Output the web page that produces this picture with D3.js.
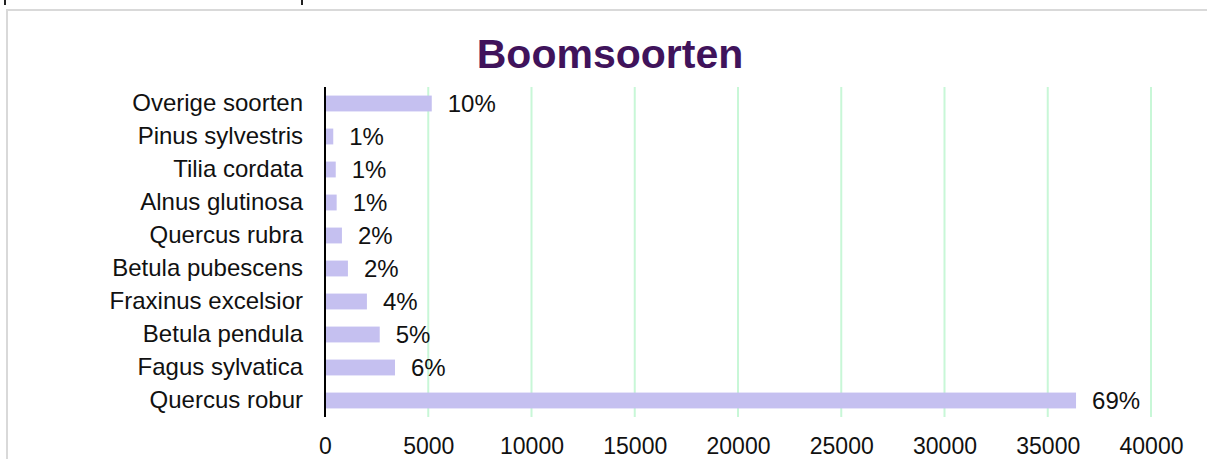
<!DOCTYPE html>
<html>
<head>
<meta charset="utf-8">
<script src="https://cdn.jsdelivr.net/npm/d3@7"></script>
<style>
  body { margin: 0; background: #fff; }
  svg { display: block; font-family: "Liberation Sans", Arial, sans-serif; }
</style>
</head>
<body>
<div id="chart"></div>
<script>
// data, top to bottom as shown
var species = ["Overige soorten", "Pinus sylvestris", "Tilia cordata", "Alnus glutinosa",
    "Quercus rubra", "Betula pubescens", "Fraxinus excelsior", "Betula pendula",
    "Fagus sylvatica", "Quercus robur"];
var counts = [5170, 400, 520, 565, 820, 1110, 2030, 2650, 3390, 36370];
var xTicks = [0, 5000, 10000, 15000, 20000, 25000, 30000, 35000, 40000];

var total = d3.sum(counts);
var data = species.map(function(d, i) { return {name: d, value: counts[i]}; });

var W = 1207, H = 459;
var margin = {top: 87, left: 325, right: 56, bottom: 42};
var width = W - margin.left - margin.right,
    height = H - margin.top - margin.bottom;

var svg = d3.select("#chart").append("svg")
    .attr("width", W)
    .attr("height", H);

// outer frame (only top and left edges are in view)
svg.append("path")
    .attr("d", "M7,459 V10 H1207")
    .attr("fill", "none")
    .attr("stroke", "#d9d9d9")
    .attr("stroke-width", 2);

// bits of something above that got cut off
svg.append("rect").attr("x", 4).attr("y", 0).attr("width", 2).attr("height", 5).attr("fill", "#222");
svg.append("rect").attr("x", 301).attr("y", 0).attr("width", 2).attr("height", 5).attr("fill", "#222");

svg.append("text")
    .attr("x", 610)
    .attr("y", 68)
    .attr("text-anchor", "middle")
    .style("font-size", "41px")
    .style("font-weight", "bold")
    .style("fill", "#40135b")
    .text("Boomsoorten");

var g = svg.append("g")
    .attr("transform", "translate(" + margin.left + "," + margin.top + ")");

var x = d3.scaleLinear().domain([0, 40000]).range([0, 826]);
var y = d3.scaleBand().domain(species).range([0, height]).paddingInner(0.52).paddingOuter(0.26);

// gridlines
g.selectAll(".grid")
    .data(xTicks.slice(1))
    .enter().append("line")
    .attr("x1", function(d) { return x(d); })
    .attr("x2", function(d) { return x(d); })
    .attr("y1", 0)
    .attr("y2", height)
    .attr("stroke", "#c8f7d7")
    .attr("stroke-width", 2);

// bars
g.selectAll(".bar")
    .data(data)
    .enter().append("rect")
    .attr("x", 0)
    .attr("y", function(d) { return y(d.name); })
    .attr("width", function(d) { return x(d.value); })
    .attr("height", y.bandwidth())
    .attr("fill", "#c5c0f0");

// value labels
g.selectAll(".lbl")
    .data(data)
    .enter().append("text")
    .attr("x", function(d) { return x(d.value) + 16; })
    .attr("y", function(d) { return y(d.name) + y.bandwidth() / 2; })
    .attr("dy", "0.36em")
    .style("font-size", "24px")
    .style("fill", "#111")
    .text(function(d) { return Math.round(d.value / total * 100) + "%"; });

// category axis
var yAxis = d3.axisLeft(y).tickSize(0).tickPadding(22);
var ya = g.append("g").call(yAxis);
ya.select(".domain").attr("stroke", "#000").attr("stroke-width", 2).attr("d", "M0,0V" + height);
ya.selectAll("text").style("font-size", "24px").style("fill", "#111").attr("font-family", null);

// value axis labels, no line
var xAxis = d3.axisBottom(x).tickValues(xTicks).tickSize(0).tickPadding(21).tickFormat(d3.format("d"));
var xa = g.append("g").attr("transform", "translate(0," + height + ")").call(xAxis);
xa.select(".domain").remove();
xa.selectAll("text").style("font-size", "23px").style("fill", "#111").attr("font-family", null);
</script>
</body>
</html>
